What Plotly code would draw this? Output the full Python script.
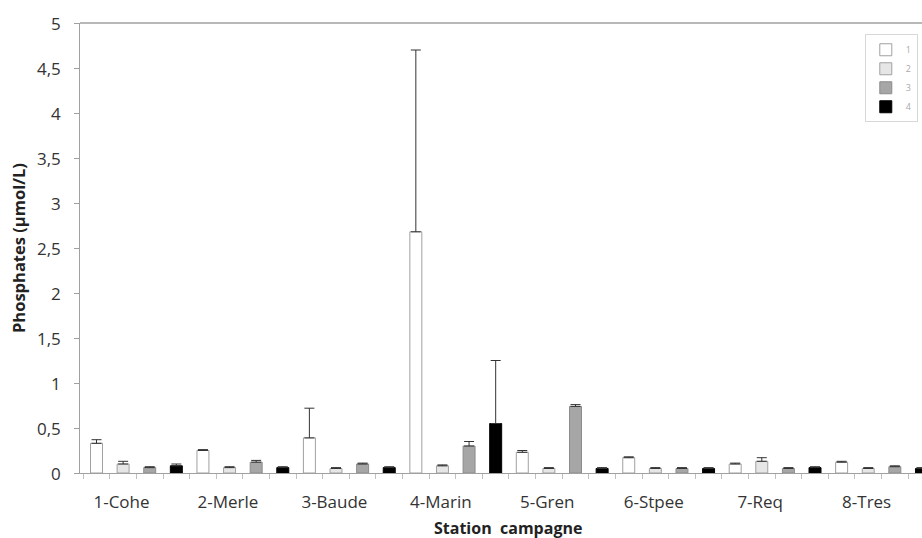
import plotly.graph_objects as go

stations = ["1-Cohe", "2-Merle", "3-Baude", "4-Marin", "5-Gren", "6-Stpee", "7-Req", "8-Tres"]
campaigns = ["1", "2", "3", "4"]

c1 = [0.33, 0.25, 0.39, 2.68, 0.23, 0.17, 0.10, 0.12]
c1_err = [0.04, 0.01, 0.33, 2.02, 0.02, 0.01, 0.01, 0.01]
c2 = [0.10, 0.06, 0.05, 0.08, 0.05, 0.05, 0.13, 0.05]
c2_err = [0.03, 0.01, 0.01, 0.01, 0.01, 0.01, 0.04, 0.01]
c3 = [0.06, 0.12, 0.10, 0.30, 0.74, 0.05, 0.05, 0.07]
c3_err = [0.01, 0.02, 0.01, 0.05, 0.02, 0.01, 0.01, 0.01]
c4 = [0.08, 0.06, 0.06, 0.55, 0.05, 0.05, 0.06, 0.05]
c4_err = [0.02, 0.01, 0.01, 0.70, 0.01, 0.01, 0.01, 0.01]

y_ticks = [0, 0.5, 1, 1.5, 2, 2.5, 3, 3.5, 4, 4.5, 5]
y_ticktext = ["0", "0,5", "1", "1,5", "2", "2,5", "3", "3,5", "4", "4,5", "5"]

x_title = "Station  campagne"
y_title = "Phosphates (µmol/L)"

series = [c1, c2, c3, c4]
errors = [c1_err, c2_err, c3_err, c4_err]
fills = ["#ffffff", "#e6e6e6", "#a6a6a6", "#000000"]
lines = ["#a0a0a0", "#a0a0a0", "#8c8c8c", "#000000"]

idx = list(range(len(stations)))

fig = go.Figure()
for name, vals, err, fc, lc in zip(campaigns, series, errors, fills, lines):
    fig.add_trace(go.Bar(
        x=idx, y=vals, name=name,
        marker=dict(color=fc, line=dict(color=lc, width=1)),
        error_y=dict(type="data", array=err, symmetric=False,
                     arrayminus=[0] * len(err), color="#333333",
                     thickness=1, width=5, visible=True),
    ))

font_family = "Open Sans, Lato, Liberation Sans, sans-serif"

fig.update_layout(
    width=922, height=538,
    margin=dict(l=80, r=0, t=23, b=65),
    paper_bgcolor="white", plot_bgcolor="white",
    barmode="group", bargap=0.0, bargroupgap=0.55,
    font=dict(family=font_family, size=17, color="#333333"),
    xaxis=dict(
        range=[-0.53, 7.38],
        automargin=False,
        tickmode="array",
        tickvals=[i - 0.14 for i in idx],
        ticktext=stations,
        ticks="", ticklabelstandoff=14,
        minor=dict(tickmode="linear", tick0=0, dtick=0.25, ticks="outside",
                   ticklen=5, tickcolor="#c0c0c0", showgrid=False),
        showgrid=False, zeroline=False,
        showline=True, linecolor="#a0a0a0", linewidth=1,
        tickfont=dict(size=17, color="#333333"),
    ),
    yaxis=dict(
        range=[0, 5],
        automargin=False,
        tickmode="array", tickvals=y_ticks,
        showticklabels=False,
        ticks="outside", ticklen=5, tickcolor="#a0a0a0",
        showgrid=False, zeroline=False,
        showline=True, linecolor="#a0a0a0", linewidth=1,
    ),
    legend=dict(
        x=0.995, y=0.975, xanchor="right", yanchor="top",
        bgcolor="white", bordercolor="#d8d8d8", borderwidth=1,
        font=dict(size=9, color="#aaaaaa"),
        itemwidth=30, tracegroupgap=0,
    ),
    showlegend=True,
)

# y tick labels (comma decimals) placed at their data values
for v, t in zip(y_ticks, y_ticktext):
    fig.add_annotation(text=t, xref="paper", yref="y", x=0, y=v,
                       xshift=-17, xanchor="right", yanchor="middle",
                       showarrow=False, font=dict(size=17, color="#333333"))

fig.add_annotation(text="<b>" + y_title + "</b>", xref="paper", yref="paper",
                   x=0, y=0.5, xshift=-62, xanchor="center", yanchor="middle",
                   textangle=-90, showarrow=False,
                   font=dict(size=16.5, color="#222222"))
fig.add_annotation(text="<b>" + x_title + "</b>", xref="paper", yref="paper",
                   x=0.508, y=0, yshift=-55, xanchor="center", yanchor="middle",
                   showarrow=False,
                   font=dict(size=16, color="#222222"))

fig.add_shape(type="line", xref="paper", yref="paper", x0=0, x1=1, y0=1, y1=1,
              line=dict(color="#a0a0a0", width=1.5))

fig.write_html("out.html")
